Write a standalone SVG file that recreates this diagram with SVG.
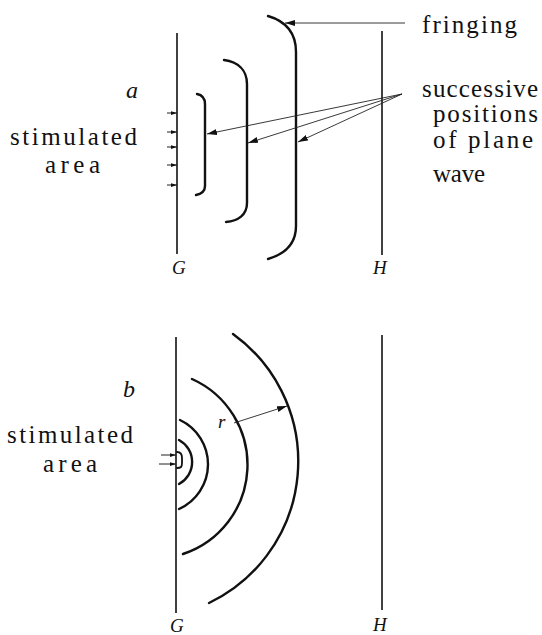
<svg xmlns="http://www.w3.org/2000/svg" width="542" height="635" viewBox="0 0 542 635">
<style>
text{font-family:"Liberation Serif","Times New Roman",Tinos,"Noto Serif","DejaVu Serif",FreeSerif,"Nimbus Roman",Times,serif;fill:#111}
.lbl{font-size:25px}
.it{font-style:italic;font-size:19px}
.ital{font-style:italic;font-size:24px}
.wall{stroke:#111;stroke-width:1.6;fill:none}
.wave{stroke:#111;stroke-width:2.4;fill:none;stroke-linecap:round}
.ptr{stroke:#222;stroke-width:0.9;fill:none;marker-end:url(#ah)}
.stim{stroke:#222;stroke-width:1;fill:none;marker-end:url(#sh)}
</style>
<defs>
<marker id="ah" viewBox="0 0 10 6" refX="10" refY="3" markerWidth="10" markerHeight="6" markerUnits="userSpaceOnUse" orient="auto"><path d="M0,0 L10,3 L0,6 z" fill="#111"/></marker>
<marker id="sh" viewBox="0 0 8 5" refX="8" refY="2.5" markerWidth="6" markerHeight="4" markerUnits="userSpaceOnUse" orient="auto"><path d="M0,0 L8,2.5 L0,5 z" fill="#111"/></marker>
</defs>

<g id="panel-a">
  <g id="a-label"><text class="ital" x="126" y="98">a</text></g>
  <g id="a-stim-label">
    <text class="lbl" x="10" y="145" textLength="127">stimulated</text>
    <text class="lbl" x="45" y="173" textLength="55">area</text>
  </g>
  <g id="a-G"><line class="wall" x1="177" y1="33" x2="177" y2="254"/><text class="it" x="172" y="274">G</text></g>
  <g id="a-H"><line class="wall" x1="382" y1="31" x2="382" y2="255"/><text class="it" x="373" y="274">H</text></g>
  <g id="a-wave1"><path class="wave" d="M197,94 C202,95 205,98 205,104 L205,186 C205,192 201,194 196,195"/></g>
  <g id="a-wave2"><path class="wave" d="M224,60 C238,62 247,70 247,84 L247,203 C247,215 238,221 226,222"/></g>
  <g id="a-wave3"><path class="wave" d="M268,16 C285,21 296,32 296,52 L296,226 C296,244 285,254 268,259"/></g>
  <g id="a-fringing-label"><text class="lbl" x="422" y="33" textLength="95">fringing</text></g>
  <g id="a-successive-label">
    <text class="lbl" x="422" y="97" textLength="116">successive</text>
    <text class="lbl" x="433" y="122" textLength="105">positions</text>
    <text class="lbl" x="433" y="148" textLength="100">of plane</text>
    <text class="lbl" x="433" y="182" textLength="52">wave</text>
  </g>
</g>

<g id="panel-b">
  <g id="b-label"><text class="ital" x="123" y="397">b</text></g>
  <g id="b-stim-label">
    <text class="lbl" x="7" y="443" textLength="126">stimulated</text>
    <text class="lbl" x="43" y="472" textLength="54">area</text>
  </g>
  <g id="b-G"><line class="wall" x1="176" y1="337" x2="176" y2="613"/><text class="it" x="170" y="632">G</text></g>
  <g id="b-H"><line class="wall" x1="382" y1="335" x2="382" y2="610"/><text class="it" x="373" y="631">H</text></g>
  <g id="b-wave1"><path class="wave" style="stroke-width:1.8" d="M177,452 C181,452 182,454 182,458 L182,463 C182,467 181,468 177,468"/></g>
  <g id="b-wave2"><path class="wave" d="M179,440 A25,25 0 0 1 179,484"/></g>
  <g id="b-wave3"><path class="wave" d="M180,420 A49,49 0 0 1 179,509"/></g>
  <g id="b-wave4"><path class="wave" d="M192,379 A94,94 0 0 1 183,554"/></g>
  <g id="b-wave5"><path class="wave" d="M233,334 A157,157 0 0 1 209,603"/></g>
  <g id="b-r-label"><text class="it" x="218" y="428">r</text></g>
</g>

<g id="connectors">
  <line class="ptr" x1="405" y1="23" x2="285" y2="23"/>
  <line class="ptr" x1="402" y1="94" x2="207" y2="134"/>
  <line class="ptr" x1="402" y1="94" x2="248" y2="143"/>
  <line class="ptr" x1="402" y1="94" x2="298" y2="142"/>
  <line class="stim" x1="167" y1="113" x2="177" y2="113"/>
  <line class="stim" x1="167" y1="132" x2="177" y2="132"/>
  <line class="stim" x1="167" y1="147" x2="177" y2="147"/>
  <line class="stim" x1="167" y1="165" x2="177" y2="165"/>
  <line class="stim" x1="167" y1="185" x2="177" y2="185"/>
  <line class="stim" x1="161" y1="455" x2="176" y2="455"/>
  <line class="stim" x1="159" y1="464" x2="176" y2="464"/>
  <line class="ptr" x1="234" y1="423" x2="287" y2="406"/>
</g>
</svg>
